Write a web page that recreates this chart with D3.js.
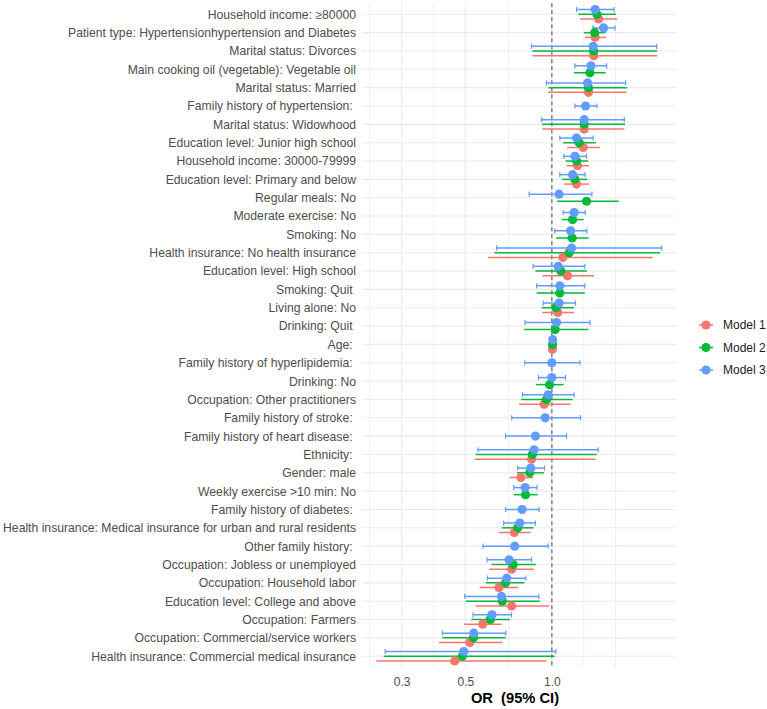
<!DOCTYPE html>
<html>
<head>
<meta charset="utf-8">
<script src="https://cdn.jsdelivr.net/npm/d3@7"></script>
<style>
  html, body { margin: 0; padding: 0; background: #ffffff; }
  svg { display: block; }
  text { font-family: "Liberation Sans", Arial, sans-serif; white-space: pre; }
</style>
</head>
<body>
<div id="chart"></div>
<script>
// ---------------- data ----------------
const categories = [
  "Household income: ≥80000",
  "Patient type: Hypertensionhypertension and Diabetes",
  "Marital status: Divorces",
  "Main cooking oil (vegetable): Vegetable oil",
  "Marital status: Married",
  "Family history of hypertension: ",
  "Marital status: Widowhood",
  "Education level: Junior high school",
  "Household income: 30000-79999",
  "Education level: Primary and below",
  "Regular meals: No",
  "Moderate exercise: No",
  "Smoking: No",
  "Health insurance: No health insurance",
  "Education level: High school",
  "Smoking: Quit ",
  "Living alone: No",
  "Drinking: Quit ",
  "Age: ",
  "Family history of hyperlipidemia: ",
  "Drinking: No",
  "Occupation: Other practitioners",
  "Family history of stroke: ",
  "Family history of heart disease: ",
  "Ethnicity: ",
  "Gender: male",
  "Weekly exercise >10 min: No",
  "Family history of diabetes: ",
  "Health insurance: Medical insurance for urban and rural residents",
  "Other family history: ",
  "Occupation: Jobless or unemployed",
  "Occupation: Household labor",
  "Education level: College and above",
  "Occupation: Farmers",
  "Occupation: Commercial/service workers",
  "Health insurance: Commercial medical insurance"
];

const seriesNames = ["Model 1", "Model 2", "Model 3"];

const model1OR = [1.455, 1.415, 1.400, null, 1.342, null, 1.296, 1.286, 1.229, 1.219, null, null, null, 1.092, 1.134, null, 1.049, null, 1.005, null, null, 0.940, null, null, 0.850, 0.780, null, null, 0.741, null, 0.725, 0.655, 0.725, 0.575, 0.518, 0.459];
const model1Lo = [1.252, 1.304, 0.856, null, 0.971, null, 0.925, 1.131, 1.125, 1.104, null, null, null, 0.600, 0.928, null, 0.925, null, 0.998, null, null, 0.769, null, null, 0.540, 0.714, null, null, 0.654, null, 0.606, 0.561, 0.542, 0.495, 0.405, 0.245];
const model1Hi = [1.689, 1.543, 2.328, null, 1.821, null, 1.787, 1.470, 1.349, 1.349, null, null, null, 2.244, 1.401, null, 1.196, null, 1.012, null, null, 1.162, null, null, 1.420, 0.861, null, null, 0.843, null, 0.866, 0.765, 0.979, 0.669, 0.673, 0.958];

const model2OR = [1.435, 1.409, 1.397, 1.357, 1.342, null, 1.296, 1.245, 1.219, 1.203, 1.321, 1.181, 1.177, 1.149, 1.075, 1.066, 1.033, 1.027, 1.006, null, 0.982, 0.958, null, null, 0.856, 0.838, 0.810, null, 0.761, null, 0.733, 0.690, 0.673, 0.611, 0.534, 0.488];
const model2Lo = [1.235, 1.293, 0.856, 1.193, 0.974, null, 0.925, 1.095, 1.116, 1.086, 1.043, 1.084, 1.035, 0.631, 0.877, 0.885, 0.921, 0.801, 0.999, null, 0.882, 0.782, null, null, 0.543, 0.757, 0.737, null, 0.671, null, 0.616, 0.589, 0.502, 0.525, 0.416, 0.260];
const model2Hi = [1.671, 1.539, 2.328, 1.539, 1.830, null, 1.797, 1.423, 1.338, 1.327, 1.708, 1.290, 1.342, 2.379, 1.324, 1.303, 1.193, 1.342, 1.013, null, 1.099, 1.181, null, null, 1.431, 0.938, 0.892, null, 0.863, null, 0.880, 0.803, 0.908, 0.714, 0.691, 1.024];

const model3OR = [1.415, 1.514, 1.393, 1.368, 1.332, 1.311, 1.296, 1.219, 1.203, 1.181, 1.060, 1.196, 1.162, 1.171, 1.052, 1.066, 1.060, 1.038, 1.007, 1.000, 1.000, 0.971, 0.948, 0.877, 0.868, 0.845, 0.807, 0.788, 0.774, 0.743, 0.710, 0.697, 0.668, 0.619, 0.535, 0.494];
const model3Lo = [1.219, 1.390, 0.850, 1.203, 0.958, 1.203, 0.921, 1.066, 1.101, 1.066, 0.834, 1.095, 1.024, 0.642, 0.861, 0.885, 0.933, 0.807, 1.000, 0.805, 0.899, 0.791, 0.725, 0.690, 0.553, 0.761, 0.737, 0.691, 0.680, 0.576, 0.595, 0.597, 0.498, 0.532, 0.416, 0.263];
const model3Hi = [1.645, 1.659, 2.317, 1.551, 1.807, 1.435, 1.787, 1.393, 1.321, 1.306, 1.379, 1.306, 1.324, 2.412, 1.303, 1.303, 1.209, 1.357, 1.014, 1.252, 1.116, 1.196, 1.259, 1.125, 1.450, 0.943, 0.889, 0.903, 0.877, 0.971, 0.850, 0.812, 0.901, 0.724, 0.691, 1.033];

const xTicks = [0.3, 0.5, 1.0];
const xTickLabels = ["0.3", "0.5", "1.0"];
const xTitle = "OR  (95% CI)";

// ---------------- styles ----------------
const colors = ["#F8766D", "#00BA38", "#619CFF"];
const capHalf = [0, 0, 2.6];
const W = 767, H = 709;
const panel = { left: 362, right: 676, top: 3.3, bottom: 667.2 };

const seriesData = [
  { name: seriesNames[0], or: model1OR, lo: model1Lo, hi: model1Hi, color: colors[0], cap: capHalf[0] },
  { name: seriesNames[1], or: model2OR, lo: model2Lo, hi: model2Hi, color: colors[1], cap: capHalf[1] },
  { name: seriesNames[2], or: model3OR, lo: model3Lo, hi: model3Hi, color: colors[2], cap: capHalf[2] }
];

// ---------------- scales ----------------
const allLo = d3.min(seriesData.flatMap(s => s.lo.filter(v => v != null)));
const allHi = d3.max(seriesData.flatMap(s => s.hi.filter(v => v != null)));
const lspan = Math.log10(allHi) - Math.log10(allLo);
const x = d3.scaleLog()
  .domain([allLo * Math.pow(10, -0.05 * lspan), allHi * Math.pow(10, 0.05 * lspan)])
  .range([panel.left, panel.right]);

const y = d3.scalePoint()
  .domain(categories)
  .range([panel.top, panel.bottom])
  .padding(0.6);
const dodgeW = y.step() * 0.77;

// build marks, dodged within each row (Model 3 on top)
const marks = [];
categories.forEach((c, i) => {
  const present = [2, 1, 0].filter(k => seriesData[k].or[i] != null);
  const n = present.length;
  present.forEach((k, j) => {
    const s = seriesData[k];
    marks.push({
      series: k, color: s.color, cap: s.cap,
      y: y(c) - dodgeW / 2 + dodgeW / (2 * n) + j * dodgeW / n,
      or: s.or[i], lo: s.lo[i], hi: s.hi[i]
    });
  });
});
marks.sort((a, b) => a.series - b.series);

// ---------------- draw ----------------
const svg = d3.select("#chart").append("svg")
  .attr("width", W).attr("height", H)
  .attr("viewBox", `0 0 ${W} ${H}`);
svg.append("rect").attr("width", W).attr("height", H).attr("fill", "#ffffff");

// gridlines (ggplot-style minor breaks in log space)
const lb = xTicks.map(v => Math.log10(v));
const bd = lb[1] - lb[0];
const ext = [lb[0] - bd, ...lb, lb[lb.length - 1] + bd];
const minor = [];
for (let i = 0; i < ext.length - 1; i++) minor.push((ext[i] + ext[i + 1]) / 2);
minor.push(ext[ext.length - 1]);
const dom = x.domain().map(Math.log10);
const minorVals = minor.filter(m => m > dom[0] && m < dom[1] && !lb.some(b => Math.abs(b - m) < 1e-9)).map(m => Math.pow(10, m));

const grid = svg.append("g");
grid.selectAll("line.minor").data(minorVals).enter().append("line")
  .attr("x1", d => x(d)).attr("x2", d => x(d))
  .attr("y1", panel.top).attr("y2", panel.bottom)
  .attr("stroke", "#EBEBEB").attr("stroke-width", 0.8);
grid.selectAll("line.majorx").data(xTicks).enter().append("line")
  .attr("x1", d => x(d)).attr("x2", d => x(d))
  .attr("y1", panel.top).attr("y2", panel.bottom)
  .attr("stroke", "#EBEBEB").attr("stroke-width", 1.1);
grid.selectAll("line.majory").data(categories).enter().append("line")
  .attr("x1", panel.left).attr("x2", panel.right)
  .attr("y1", d => y(d)).attr("y2", d => y(d))
  .attr("stroke", "#EBEBEB").attr("stroke-width", 1.1);

// reference line at OR = 1
svg.append("line")
  .attr("x1", x(1)).attr("x2", x(1))
  .attr("y1", panel.top).attr("y2", panel.bottom)
  .attr("stroke", "#808080").attr("stroke-width", 1.5)
  .attr("stroke-dasharray", "4,3");

// error bars
const eb = svg.append("g");
eb.selectAll("line.ci").data(marks).enter().append("line")
  .attr("x1", d => x(d.lo)).attr("x2", d => x(d.hi))
  .attr("y1", d => d.y).attr("y2", d => d.y)
  .attr("stroke", d => d.color).attr("stroke-width", 1.5);
const capped = marks.filter(d => d.cap > 0);
eb.selectAll("line.capl").data(capped).enter().append("line")
  .attr("x1", d => x(d.lo)).attr("x2", d => x(d.lo))
  .attr("y1", d => d.y - d.cap).attr("y2", d => d.y + d.cap)
  .attr("stroke", d => d.color).attr("stroke-width", 1.2);
eb.selectAll("line.capr").data(capped).enter().append("line")
  .attr("x1", d => x(d.hi)).attr("x2", d => x(d.hi))
  .attr("y1", d => d.y - d.cap).attr("y2", d => d.y + d.cap)
  .attr("stroke", d => d.color).attr("stroke-width", 1.2);

// points
svg.append("g").selectAll("circle").data(marks).enter().append("circle")
  .attr("cx", d => x(d.or)).attr("cy", d => d.y).attr("r", 4.6)
  .attr("fill", d => d.color);

// y axis labels
const yAxis = d3.axisLeft(y).tickSize(0).tickPadding(6);
const gy = svg.append("g").attr("transform", `translate(${panel.left},0)`).call(yAxis);
gy.select(".domain").remove();
gy.selectAll("text").attr("fill", "#4D4D4D").attr("font-size", 12.2)
  .attr("font-family", "'Liberation Sans', Arial, sans-serif")
  .style("white-space", "pre");

// x axis labels
const xAxis = d3.axisBottom(x).tickValues(xTicks).tickFormat((d, i) => xTickLabels[i]).tickSize(0).tickPadding(0);
const gx = svg.append("g").attr("transform", `translate(0,${panel.bottom})`).call(xAxis);
gx.select(".domain").remove();
gx.selectAll("text").attr("fill", "#4D4D4D").attr("font-size", 12)
  .attr("font-family", "'Liberation Sans', Arial, sans-serif")
  .attr("dy", null).attr("y", 19.3);

// x title
svg.append("text")
  .attr("x", 515).attr("y", 702.5)
  .attr("text-anchor", "middle")
  .attr("font-size", 14.7).attr("font-weight", "bold").attr("fill", "#000")
  .text(xTitle);

// legend
const legY = [325, 347.5, 370];
const leg = svg.append("g");
seriesData.forEach((s, i) => {
  const g = leg.append("g").attr("transform", `translate(0,${legY[i]})`);
  g.append("line").attr("x1", 699).attr("x2", 713).attr("y1", 0).attr("y2", 0)
    .attr("stroke", s.color).attr("stroke-width", 1.5);
  g.append("circle").attr("cx", 706).attr("cy", 0).attr("r", 4.6).attr("fill", s.color);
  g.append("text").attr("x", 723).attr("y", 4.3).attr("font-size", 12).attr("fill", "#1a1a1a").text(s.name);
});
</script>
</body>
</html>
